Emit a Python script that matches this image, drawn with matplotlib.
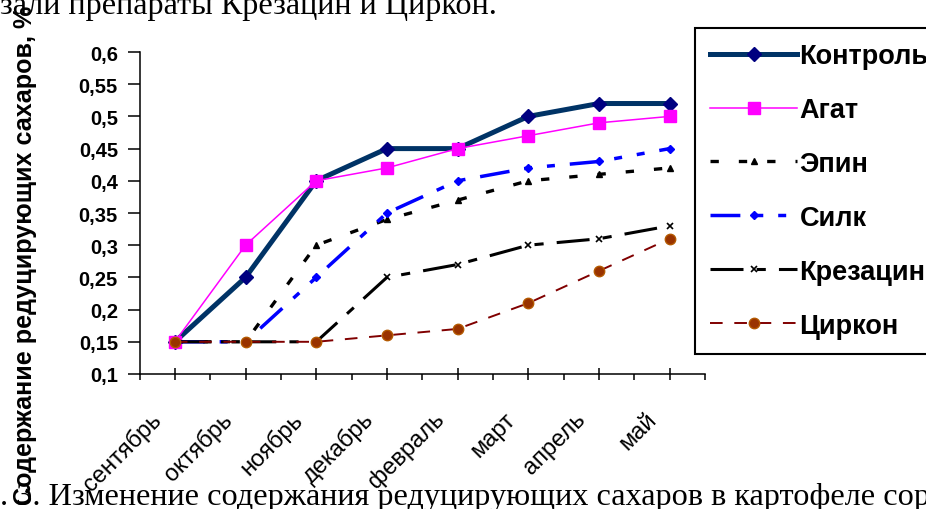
import matplotlib
matplotlib.use("Agg")
import matplotlib.pyplot as plt
import matplotlib.transforms as mtransforms

# ==========================================
# DATA
# ==========================================

months = ["сентябрь", "октябрь", "ноябрь", "декабрь",
          "февраль", "март", "апрель", "май"]

kontrol = [0.15, 0.25, 0.40, 0.45, 0.45, 0.50, 0.52, 0.52]
agat = [0.15, 0.30, 0.40, 0.42, 0.45, 0.47, 0.49, 0.50]
epin = [0.15, 0.15, 0.30, 0.34, 0.37, 0.40, 0.41, 0.42]
silk = [0.15, 0.15, 0.25, 0.35, 0.40, 0.42, 0.43, 0.45]
krezacin = [0.15, 0.15, 0.15, 0.25, 0.27, 0.30, 0.31, 0.33]
cirkon = [0.15, 0.15, 0.15, 0.16, 0.17, 0.21, 0.26, 0.31]

yticks = [0.1, 0.15, 0.2, 0.25, 0.3, 0.35, 0.4, 0.45, 0.5, 0.55, 0.6]
ytick_labels = ["0,1", "0,15", "0,2", "0,25", "0,3", "0,35",
                "0,4", "0,45", "0,5", "0,55", "0,6"]

ylabel = "Содержание редуцирующих сахаров, %"
text_top = "зали препараты Крезацин и Циркон."
text_bottom = ". 3. Изменение содержания редуцирующих сахаров в картофеле сор"

plt.rcParams["font.family"] = ["Liberation Sans", "DejaVu Sans"]

W, H = 926, 510
fig = plt.figure(figsize=(W / 100, H / 100), dpi=100)
ax = fig.add_axes([139.5 / W, 135 / H, 565.5 / W, 322 / H])
ax.patch.set_alpha(0)

x = list(range(len(months)))

# ==========================================
# SERIES
# ==========================================

ax.plot(x, kontrol, color="#003366", lw=3.6, marker="D", ms=7,
        mfc="#000080", mec="#000080", label="Контроль")
ax.plot(x, agat, color="#FF00FF", lw=1.1, marker="s", ms=8.5,
        mfc="#FF00FF", mec="#FF00FF", label="Агат")
ax.plot(x, epin, color="black", lw=2.4, ls=(0, (2.5, 6.0)),
        marker="^", ms=5, label="Эпин")
ax.plot(x, silk, color="#0000FF", lw=2.5,
        ls=(0, (8.6, 4.3, 2.3, 4.3, 2.3, 4.3)),
        marker="D", ms=4, label="Силк")
ax.plot(x, krezacin, color="black", lw=2.2, ls=(0, (10.8, 4.3, 3, 4.3)),
        marker="x", ms=5, mew=1.2, label="Крезацин")
ax.plot(x, cirkon, color="#800000", lw=1.4, ls=(0, (6.5, 6)),
        marker="o", ms=7.5, mfc="#993300", mec="#b35900", label="Циркон")

# ==========================================
# AXES
# ==========================================

ax.set_xlim(-0.5, len(months) - 0.5)
ax.set_ylim(yticks[0], yticks[-1])

for side in ("top", "right"):
    ax.spines[side].set_visible(False)
for side in ("left", "bottom"):
    ax.spines[side].set_linewidth(1.1)

ax.set_yticks(yticks, labels=ytick_labels, fontsize=14.5, fontweight="bold")
ax.tick_params(axis="y", direction="out", length=9, width=1.1, pad=6.5)

ax.set_xticks(x, labels=months, rotation=45, ha="right", va="center",
              rotation_mode="anchor", fontsize=17)
ax.set_xticks([i - 0.5 for i in range(len(months) + 1)], minor=True)
ax.tick_params(axis="x", which="major", direction="inout", length=8,
               width=1.1, pad=26)
ax.tick_params(axis="x", which="minor", direction="out", length=4.3,
               width=1.1)

shift = mtransforms.ScaledTranslation(-12 / 72, 0, fig.dpi_scale_trans)
for lbl in ax.get_xticklabels():
    lbl.set_transform(lbl.get_transform() + shift)

ax.set_ylabel(ylabel, fontsize=18.1, fontweight="bold", va="center")
ax.yaxis.set_label_coords(25 / W, 1 - 255 / H, transform=fig.transFigure)

# ==========================================
# LEGEND
# ==========================================

leg = fig.legend(loc="upper left", bbox_to_anchor=(695 / W, 1 - 29 / H),
                 prop={"weight": "bold", "size": 19.5},
                 frameon=True, fancybox=False, edgecolor="black",
                 framealpha=1, borderpad=0.56, handlelength=3.2,
                 handletextpad=0.1, labelspacing=1.03, borderaxespad=0)
leg.get_frame().set_linewidth(1.5)

# ==========================================
# SURROUNDING DOCUMENT TEXT
# ==========================================

fig.text(0, 1 - 14 / H, text_top, family="Liberation Serif",
         fontsize=23.2, va="baseline")
fig.text(0, 1 - 505 / H, text_bottom, family="Liberation Serif",
         fontsize=23.2, va="baseline")

fig.savefig("out.png", dpi=100)
